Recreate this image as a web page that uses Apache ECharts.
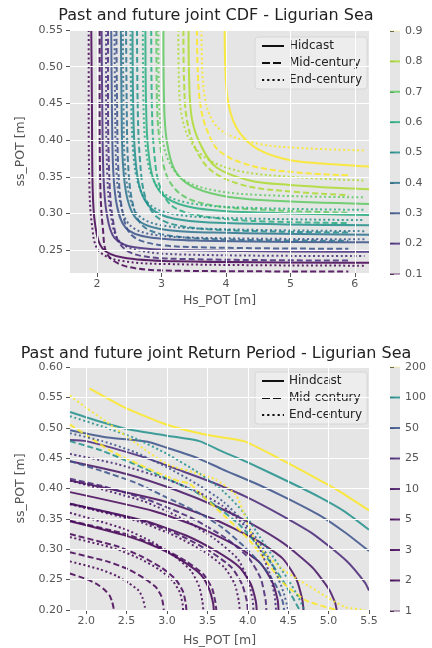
<!DOCTYPE html>
<html><head><meta charset="utf-8">
<script src="https://cdn.jsdelivr.net/npm/echarts@6.0.0/dist/echarts.min.js"></script>
<style>html,body{margin:0;padding:0;background:#fff}#c{width:432px;height:648px}</style>
</head><body><div id="c"></div>
<script>
// ---------- data: joint CDF ----------
const cdfLevels = [0.1, 0.2, 0.3, 0.4, 0.5, 0.6, 0.7, 0.8, 0.9];
const cdfXTicks = [2, 3, 4, 5, 6];
const cdfYTicks = [0.25, 0.30, 0.35, 0.40, 0.45, 0.50, 0.55];

const cdfHindcast = [
  [[1.91,0.55],[1.92,0.45],[1.93,0.34],[1.97,0.285],[2.08,0.253],[2.4,0.240],[3.2,0.235],[6.22,0.233]],
  [[2.07,0.55],[2.08,0.45],[2.10,0.35],[2.15,0.30],[2.27,0.267],[2.58,0.254],[3.4,0.250],[6.22,0.248]],
  [[2.22,0.55],[2.23,0.45],[2.25,0.36],[2.31,0.31],[2.45,0.28],[2.78,0.268],[3.6,0.263],[6.22,0.261]],
  [[2.37,0.55],[2.38,0.45],[2.40,0.37],[2.47,0.32],[2.62,0.292],[2.98,0.279],[3.8,0.274],[6.22,0.271]],
  [[2.55,0.55],[2.56,0.45],[2.59,0.38],[2.67,0.333],[2.85,0.306],[3.2,0.293],[4.0,0.287],[6.22,0.284]],
  [[2.75,0.55],[2.76,0.45],[2.79,0.39],[2.88,0.345],[3.08,0.321],[3.5,0.308],[4.3,0.302],[6.22,0.298]],
  [[3.03,0.55],[3.04,0.45],[3.08,0.40],[3.2,0.36],[3.45,0.338],[3.9,0.325],[4.6,0.318],[6.22,0.313]],
  [[3.42,0.55],[3.43,0.48],[3.47,0.43],[3.6,0.395],[3.85,0.363],[4.37,0.345],[4.98,0.339],[6.22,0.333]],
  [[3.98,0.55],[3.99,0.50],[4.02,0.46],[4.11,0.427],[4.27,0.404],[4.53,0.386],[4.98,0.373],[5.66,0.367],[6.22,0.364]]
];
const cdfMid = [
  [[2.04,0.55],[2.04,0.45],[2.05,0.34],[2.09,0.28],[2.17,0.243],[2.5,0.227],[3.3,0.222],[5.9,0.221]],
  [[2.17,0.55],[2.17,0.45],[2.19,0.35],[2.24,0.295],[2.36,0.258],[2.65,0.243],[3.4,0.238],[5.9,0.236]],
  [[2.30,0.55],[2.31,0.45],[2.33,0.36],[2.39,0.305],[2.52,0.272],[2.85,0.259],[3.6,0.254],[5.9,0.252]],
  [[2.45,0.55],[2.46,0.45],[2.48,0.37],[2.55,0.315],[2.7,0.284],[3.05,0.271],[3.85,0.265],[5.9,0.263]],
  [[2.62,0.55],[2.63,0.45],[2.66,0.38],[2.74,0.325],[2.92,0.296],[3.3,0.283],[4.1,0.277],[5.9,0.274]],
  [[2.84,0.55],[2.85,0.45],[2.88,0.39],[2.97,0.338],[3.17,0.31],[3.6,0.297],[4.4,0.29],[5.9,0.287]],
  [[2.92,0.55],[2.93,0.45],[2.97,0.40],[3.08,0.352],[3.32,0.325],[3.8,0.311],[4.6,0.305],[5.9,0.301]],
  [[3.34,0.55],[3.35,0.48],[3.39,0.43],[3.52,0.39],[3.78,0.358],[4.3,0.338],[5.0,0.33],[5.9,0.325]],
  [[3.55,0.55],[3.56,0.50],[3.6,0.45],[3.7,0.415],[3.9,0.385],[4.4,0.365],[5.1,0.356],[5.9,0.352]]
];
const cdfEnd = [
  [[1.87,0.55],[1.87,0.45],[1.88,0.34],[1.92,0.285],[2.02,0.25],[2.35,0.236],[3.2,0.231],[6.15,0.229]],
  [[2.14,0.55],[2.14,0.45],[2.16,0.35],[2.21,0.30],[2.33,0.264],[2.63,0.25],[3.4,0.244],[6.15,0.242]],
  [[2.27,0.55],[2.28,0.45],[2.30,0.36],[2.36,0.315],[2.5,0.285],[2.82,0.272],[3.6,0.267],[6.15,0.265]],
  [[2.40,0.55],[2.41,0.45],[2.43,0.37],[2.5,0.325],[2.65,0.297],[3.0,0.284],[3.8,0.279],[6.15,0.276]],
  [[2.52,0.55],[2.53,0.45],[2.56,0.385],[2.64,0.34],[2.82,0.312],[3.2,0.299],[4.0,0.294],[6.15,0.291]],
  [[2.71,0.55],[2.72,0.45],[2.75,0.395],[2.84,0.353],[3.04,0.327],[3.45,0.314],[4.3,0.308],[6.15,0.305]],
  [[2.95,0.55],[2.96,0.46],[3.0,0.41],[3.12,0.37],[3.36,0.345],[3.85,0.331],[4.6,0.325],[6.15,0.322]],
  [[3.26,0.55],[3.27,0.48],[3.31,0.435],[3.44,0.4],[3.7,0.375],[4.2,0.358],[5.0,0.35],[6.15,0.345]],
  [[3.62,0.55],[3.63,0.50],[3.67,0.46],[3.77,0.43],[3.98,0.41],[4.5,0.395],[5.2,0.389],[6.15,0.386]]
];

// ---------- data: joint return period ----------
const rpLevels = [1, 2, 3, 5, 10, 25, 50, 100, 200];
const rpXTicks = [2.0, 2.5, 3.0, 3.5, 4.0, 4.5, 5.0, 5.5];
const rpYTicks = [0.20, 0.25, 0.30, 0.35, 0.40, 0.45, 0.50, 0.55, 0.60];

const rpHindcast = [
  [[1.8,0.346],[2.5,0.322],[2.9,0.302],[3.2,0.28],[3.42,0.258],[3.52,0.235],[3.57,0.212],[3.58,0.2]],
  [[1.8,0.375],[2.72,0.347],[3.23,0.323],[3.62,0.296],[3.9,0.27],[4.04,0.242],[4.1,0.214],[4.11,0.2]],
  [[1.8,0.394],[2.83,0.363],[3.4,0.336],[3.84,0.307],[4.15,0.278],[4.3,0.247],[4.37,0.216],[4.38,0.2]],
  [[1.8,0.413],[2.96,0.379],[3.59,0.349],[4.08,0.317],[4.43,0.285],[4.6,0.251],[4.675,0.217],[4.69,0.2]],
  [[1.8,0.445],[2.5,0.424],[3.1,0.398],[3.62,0.37],[4.03,0.343],[4.44,0.31],[4.8,0.27],[5.0,0.235],[5.08,0.212],[5.1,0.2]],
  [[1.8,0.48],[2.0,0.478],[2.7,0.452],[3.2,0.428],[3.62,0.407],[4.0,0.385],[4.4,0.357],[4.81,0.325],[5.22,0.281],[5.45,0.245],[5.5,0.232]],
  [[1.8,0.496],[2.27,0.484],[2.76,0.477],[3.0,0.467],[3.38,0.45],[3.68,0.432],[4.12,0.407],[4.5,0.383],[4.9,0.355],[5.2,0.328],[5.5,0.297]],
  [[1.8,0.526],[2.2,0.509],[2.5,0.498],[3.0,0.487],[3.4,0.478],[3.7,0.46],[4.0,0.443],[4.57,0.407],[4.9,0.385],[5.2,0.362],[5.5,0.332]],
  [[2.04,0.565],[2.5,0.532],[3.0,0.505],[3.5,0.488],[3.95,0.478],[4.35,0.452],[4.98,0.407],[5.2,0.39],[5.5,0.364]]
];
const rpMid = [
  [[1.8,0.26],[2.02,0.25],[2.14,0.242],[2.23,0.233],[2.29,0.224],[2.32,0.214],[2.337,0.205],[2.34,0.2]],
  [[1.8,0.295],[2.26,0.28],[2.52,0.267],[2.72,0.252],[2.86,0.238],[2.93,0.223],[2.954,0.208],[2.96,0.2]],
  [[1.8,0.325],[2.38,0.305],[2.69,0.288],[2.94,0.269],[3.11,0.25],[3.2,0.23],[3.233,0.21],[3.24,0.2]],
  [[1.8,0.347],[2.52,0.324],[2.92,0.303],[3.23,0.281],[3.45,0.259],[3.56,0.235],[3.6,0.212],[3.61,0.2]],
  [[1.8,0.375],[2.68,0.347],[3.16,0.323],[3.54,0.296],[3.8,0.27],[3.93,0.242],[3.99,0.214],[4.0,0.2]],
  [[1.8,0.416],[2.2,0.404],[2.77,0.381],[3.31,0.351],[3.72,0.319],[4.01,0.286],[4.16,0.252],[4.22,0.217],[4.23,0.2]],
  [[1.8,0.445],[2.19,0.429],[2.6,0.41],[3.0,0.385],[3.42,0.358],[3.68,0.336],[3.95,0.305],[4.2,0.27],[4.35,0.24],[4.43,0.215],[4.45,0.2]],
  [[1.8,0.478],[2.2,0.462],[2.6,0.44],[3.0,0.416],[3.35,0.395],[3.6,0.372],[3.9,0.34],[4.1,0.31],[4.3,0.275],[4.45,0.245],[4.58,0.215],[4.64,0.2]],
  [[1.8,0.505],[2.0,0.488],[2.3,0.462],[2.6,0.443],[2.9,0.425],[3.15,0.412],[3.28,0.408],[3.42,0.39],[3.62,0.366],[4.0,0.318],[4.25,0.276],[4.45,0.243],[4.73,0.215],[5.1,0.2]]
];
const rpEnd = [
  [[1.8,0.28],[2.17,0.267],[2.38,0.256],[2.53,0.244],[2.65,0.232],[2.7,0.219],[2.725,0.206],[2.73,0.2]],
  [[1.8,0.32],[2.36,0.301],[2.67,0.284],[2.91,0.266],[3.07,0.248],[3.16,0.229],[3.193,0.21],[3.2,0.2]],
  [[1.8,0.36],[2.46,0.334],[2.82,0.312],[3.1,0.288],[3.3,0.264],[3.4,0.238],[3.44,0.213],[3.45,0.2]],
  [[1.8,0.374],[2.64,0.346],[3.1,0.322],[3.46,0.296],[3.71,0.27],[3.84,0.242],[3.89,0.214],[3.9,0.2]],
  [[1.8,0.413],[2.71,0.379],[3.21,0.349],[3.59,0.317],[3.87,0.285],[4.0,0.251],[4.06,0.217],[4.07,0.2]],
  [[1.8,0.457],[2.39,0.44],[3.0,0.415],[3.4,0.393],[3.68,0.372],[3.95,0.34],[4.15,0.3],[4.27,0.26],[4.33,0.225],[4.35,0.2]],
  [[1.8,0.491],[2.2,0.478],[2.6,0.46],[3.0,0.435],[3.4,0.405],[3.7,0.378],[3.95,0.345],[4.15,0.31],[4.32,0.27],[4.44,0.23],[4.5,0.2]],
  [[1.8,0.519],[2.2,0.502],[2.6,0.483],[3.0,0.457],[3.4,0.425],[3.7,0.395],[3.95,0.36],[4.15,0.32],[4.35,0.28],[4.5,0.25],[4.63,0.22],[4.7,0.2]],
  [[1.8,0.553],[2.0,0.533],[2.27,0.508],[2.6,0.476],[3.0,0.44],[3.4,0.424],[3.6,0.415],[3.85,0.39],[3.95,0.36],[4.05,0.325],[4.2,0.295],[4.4,0.27],[4.65,0.248],[4.97,0.222],[5.2,0.205],[5.45,0.2]]
];

// ---------- styles ----------
const cdfColors = ['#440154','#472d7b','#3b528b','#2c728e','#21918c','#28ae80','#5ec962','#addc30','#fde725'];
const rpColors  = ['#440154','#440256','#450559','#460a5d','#471365','#482677','#3b528b','#21918c','#fde725'];
const barOpacity = [0.35, 0.85, 0.85, 0.85, 0.85, 0.85, 0.85, 0.85, 0.15];
const dashTypes = ['solid', [6, 3], [2, 2.6]];
const FONT = 'DejaVu Sans';
const GRAY = '#555555';
const BG = '#e5e5e5';

const chart = echarts.init(document.getElementById('c'), null, {renderer: 'canvas'});

function mainX(idx, min, max, ticks, fmt, gap) {
  return {
    gridIndex: idx, type: 'value', min: min, max: max,
    axisLine: {show: false},
    axisTick: {show: true, length: 4, lineStyle: {color: GRAY, width: 1}, customValues: ticks},
    axisLabel: {color: GRAY, fontSize: 11, fontFamily: FONT, margin: 6, customValues: ticks, formatter: fmt},
    splitLine: {show: false},
    name: 'Hs_POT [m]', nameLocation: 'middle', nameGap: gap,
    nameTextStyle: {color: GRAY, fontSize: 12.5, fontFamily: FONT}
  };
}
function mainY(idx, min, max, ticks) {
  return {
    gridIndex: idx, type: 'value', min: min, max: max,
    axisLine: {show: false},
    axisTick: {show: true, length: 4, lineStyle: {color: GRAY, width: 1}, customValues: ticks},
    axisLabel: {color: GRAY, fontSize: 11, fontFamily: FONT, margin: 7, customValues: ticks,
      formatter: v => v.toFixed(2)},
    splitLine: {show: false},
    name: 'ss_POT [m]', nameLocation: 'middle', nameGap: 41, nameRotate: 90,
    nameTextStyle: {color: GRAY, fontSize: 12.5, fontFamily: FONT}
  };
}
const hiddenX = idx => ({gridIndex: idx, type: 'value', min: 0, max: 1, show: false});

const series = [];
function gridLines(xi, xt, yt) {
  series.push({
    type: 'line', xAxisIndex: xi, yAxisIndex: xi, data: [], silent: true, z: 1,
    markLine: {
      silent: true, symbol: ['none', 'none'], animation: false,
      label: {show: false},
      lineStyle: {color: '#ffffff', width: 1, type: 'solid', opacity: 1},
      emphasis: {disabled: true},
      data: xt.map(v => ({xAxis: v})).concat(yt.map(v => ({yAxis: v})))
    }
  });
}
gridLines(0, cdfXTicks, cdfYTicks);
gridLines(2, rpXTicks, rpYTicks);

[cdfHindcast, cdfMid, cdfEnd].forEach((set, s) => {
  set.forEach((pts, k) => {
    series.push({
      type: 'line', xAxisIndex: 0, yAxisIndex: 0, data: pts, symbol: 'none', smooth: 0.35,
      silent: true, z: 3, animation: false,
      lineStyle: {color: cdfColors[k], width: 2, type: dashTypes[s], opacity: 0.85}
    });
  });
});
[rpHindcast, rpMid, rpEnd].forEach((set, s) => {
  set.forEach((pts, k) => {
    series.push({
      type: 'line', xAxisIndex: 2, yAxisIndex: 2, data: pts, symbol: 'none', smooth: 0.2,
      silent: true, z: 3, animation: false,
      lineStyle: {color: rpColors[k], width: 2, type: dashTypes[s], opacity: 0.85}
    });
  });
});

// colorbar level marks
cdfLevels.forEach((lv, k) => {
  series.push({type: 'line', xAxisIndex: 1, yAxisIndex: 1, data: [[0, lv], [1, lv]], symbol: 'none',
    silent: true, animation: false, lineStyle: {color: cdfColors[k], width: 2, opacity: barOpacity[k]}});
});
rpLevels.forEach((lv, k) => {
  series.push({type: 'line', xAxisIndex: 3, yAxisIndex: 3, data: [[0, k], [1, k]], symbol: 'none',
    silent: true, animation: false, lineStyle: {color: rpColors[k], width: 2, opacity: barOpacity[k]}});
});

// legend entries
const legendNames = ['Hidcast', 'Hindcast', 'Mid-century', 'End-century'];
const legendTypes = ['solid', 'solid', [8, 3], [2.2, 3]];
legendNames.forEach((n, i) => {
  series.push({name: n, type: 'line', xAxisIndex: 0, yAxisIndex: 0, data: [], symbol: 'none',
    showSymbol: false, color: '#111', itemStyle: {opacity: 0},
    lineStyle: {color: '#111', width: 2, type: legendTypes[i], opacity: 1}});
});
const legendBase = {
  orient: 'vertical', left: 255, itemWidth: 22, itemHeight: 12, itemGap: 5,
  padding: [3, 5, 3, 6], selectedMode: false,
  itemStyle: {opacity: 0, borderWidth: 0},
  backgroundColor: 'rgba(238,238,238,0.85)', borderColor: '#d6d6d6', borderWidth: 1, borderRadius: 3,
  textStyle: {color: '#222', fontSize: 12, fontFamily: FONT}
};

const option = {
  animation: false,
  backgroundColor: '#ffffff',
  title: [
    {text: 'Past and future joint CDF - Ligurian Sea', left: 'center', top: 8, padding: 0,
      textStyle: {fontFamily: FONT, fontSize: 16, fontWeight: 'normal', color: '#222'}},
    {text: 'Past and future joint Return Period - Ligurian Sea', left: 'center', top: 346, padding: 0,
      textStyle: {fontFamily: FONT, fontSize: 16, fontWeight: 'normal', color: '#222'}}
  ],
  legend: [
    Object.assign({}, legendBase, {top: 37, data: ['Hidcast', 'Mid-century', 'End-century']}),
    Object.assign({}, legendBase, {top: 372, data: ['Hindcast', 'Mid-century', 'End-century']})
  ],
  grid: [
    {left: 70, top: 30, width: 299, height: 243, show: true, backgroundColor: BG, borderWidth: 0},
    {left: 390, top: 31, width: 10, height: 243, show: true, backgroundColor: BG, borderWidth: 0},
    {left: 70, top: 367, width: 299, height: 244, show: true, backgroundColor: BG, borderWidth: 0},
    {left: 390, top: 367, width: 10, height: 244, show: true, backgroundColor: BG, borderWidth: 0}
  ],
  xAxis: [
    mainX(0, 1.58, 6.22, cdfXTicks, v => String(v), 21),
    hiddenX(1),
    mainX(2, 1.8, 5.5, rpXTicks, v => v.toFixed(1), 24),
    hiddenX(3)
  ],
  yAxis: [
    mainY(0, 0.219, 0.55, cdfYTicks),
    {gridIndex: 1, type: 'value', position: 'right', min: 0.1, max: 0.9, interval: 0.1,
      axisLine: {show: false}, splitLine: {show: false},
      axisTick: {show: true, length: 4, lineStyle: {color: GRAY}},
      axisLabel: {color: GRAY, fontSize: 11, fontFamily: FONT, margin: 5, formatter: v => v.toFixed(1)}},
    mainY(2, 0.2, 0.6, rpYTicks),
    {gridIndex: 3, type: 'category', position: 'right', boundaryGap: false,
      data: rpLevels.map(String),
      axisLine: {show: false}, splitLine: {show: false},
      axisTick: {show: true, length: 4, alignWithLabel: true, lineStyle: {color: GRAY}},
      axisLabel: {color: GRAY, fontSize: 11, fontFamily: FONT, margin: 5, interval: 0}}
  ],
  series: series
};
chart.setOption(option);
</script></body></html>
